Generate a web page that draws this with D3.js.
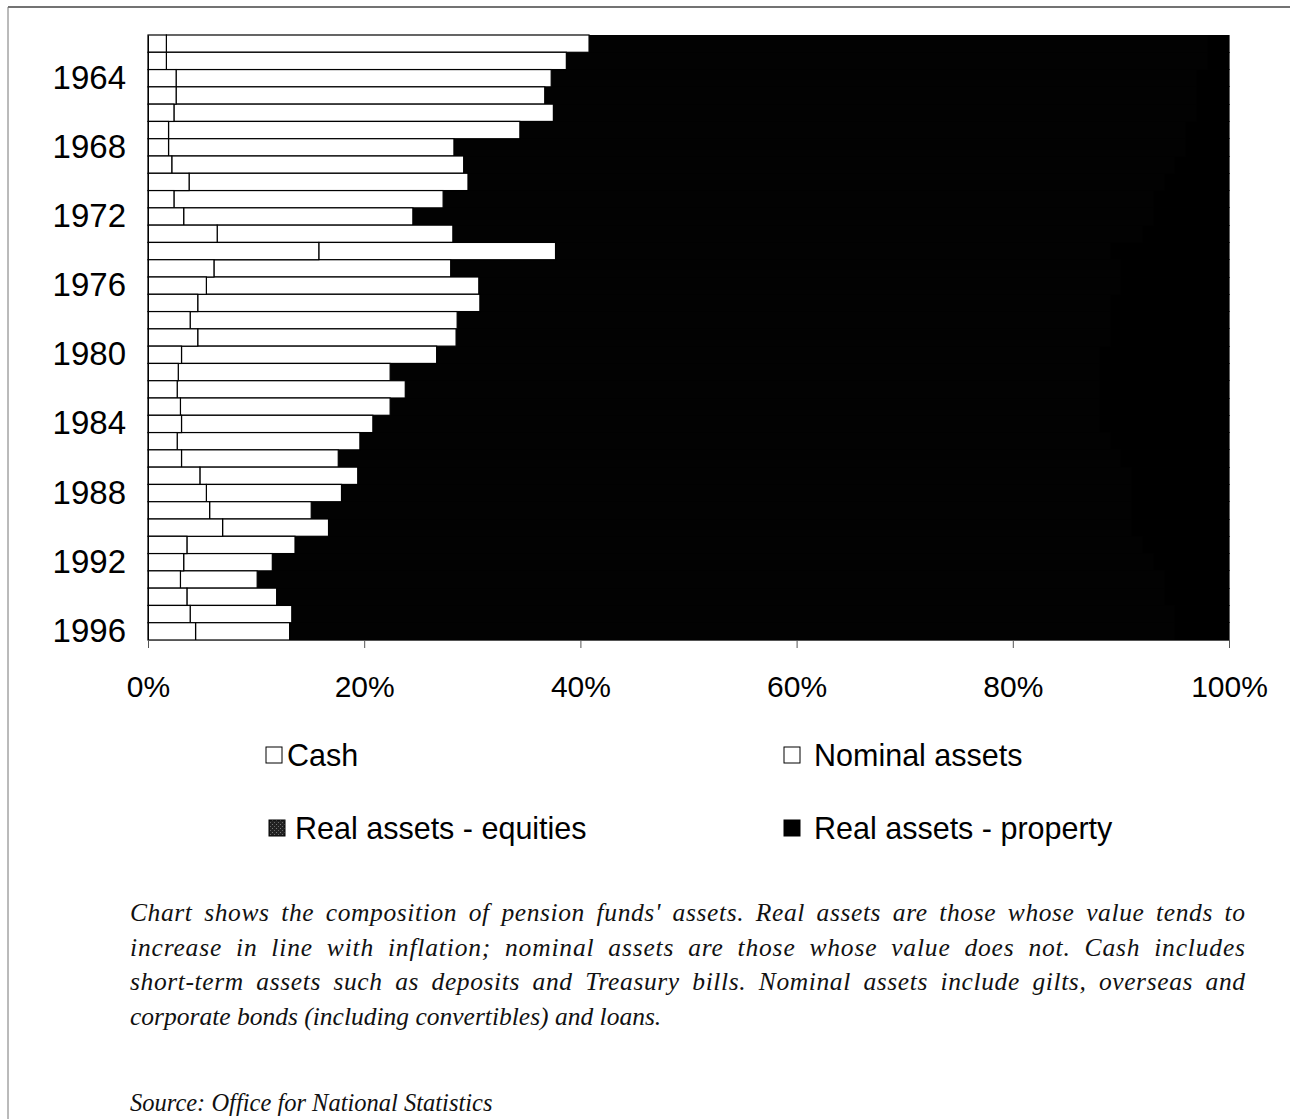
<!DOCTYPE html>
<html>
<head>
<meta charset="utf-8">
<script src="https://cdn.jsdelivr.net/npm/d3@7"></script>
<style>
  html, body { margin: 0; padding: 0; background: #fff; }
  svg { display: block; }
</style>
</head>
<body>
<svg id="chart" width="1290" height="1119"></svg>
<script>
// Pension fund asset composition, share of total (%), 1962-1996
const years = d3.range(1962, 1997);
const cash = [1.7, 1.7, 2.6, 2.6, 2.4, 1.9, 1.9, 2.2, 3.8, 2.4, 3.3, 6.4, 15.8, 6.1, 5.4, 4.6, 3.9, 4.6,
              3.1, 2.8, 2.7, 3.0, 3.1, 2.7, 3.1, 4.8, 5.4, 5.7, 6.9, 3.6, 3.3, 3.0, 3.6, 3.9, 4.4];
const nominal = [39.1, 37.0, 34.7, 34.1, 35.1, 32.5, 26.4, 27.0, 25.8, 24.9, 21.2, 21.8, 21.9, 21.9, 25.2,
                 26.1, 24.7, 23.9, 23.6, 19.6, 21.1, 19.4, 17.7, 16.9, 14.5, 14.6, 12.5, 9.4, 9.8, 10.0,
                 8.2, 7.1, 8.3, 9.4, 8.7];
const property = [2, 2, 3, 3, 3, 4, 4, 5, 6, 7, 7, 8, 11, 10, 10, 11, 11, 11, 12, 12, 12, 12, 12, 11,
                  10, 9, 9, 9, 9, 8, 7, 6, 6, 5, 5];
const equities = years.map((_, i) => +(100 - cash[i] - nominal[i] - property[i]).toFixed(1));

const yearTicks = d3.range(1964, 1997, 4);
const pctTicks = [0, 20, 40, 60, 80, 100];

const seriesKeys = ["cash", "nominal", "equities", "property"];
const seriesNames = ["Cash", "Nominal assets", "Real assets - equities", "Real assets - property"];
const seriesFill = { cash: "#ffffff", nominal: "#ffffff", equities: "#020202", property: "#000000" };

const captionLines = [
  "Chart shows the composition of pension funds' assets. Real assets are those whose value tends to",
  "increase in line with inflation; nominal assets are those whose value does not. Cash includes",
  "short-term assets such as deposits and Treasury bills. Nominal assets include gilts, overseas and",
  "corporate bonds (including convertibles) and loans."
];
const sourceText = "Source: Office for National Statistics";

const rows = years.map((yr, i) => ({
  year: yr, cash: cash[i], nominal: nominal[i], equities: equities[i], property: property[i]
}));

const svg = d3.select("#chart");
const sans = "'Liberation Sans', Arial, Helvetica, sans-serif";
const serif = "'Liberation Serif', 'Times New Roman', serif";

// Speckled dark fill used for the equities legend key
const defs = svg.append("defs");
const pat = defs.append("pattern").attr("id", "speckle").attr("patternUnits", "userSpaceOnUse")
  .attr("width", 4).attr("height", 4);
pat.append("rect").attr("width", 4).attr("height", 4).attr("fill", "#222");
pat.append("rect").attr("x", 0).attr("y", 0).attr("width", 1).attr("height", 1).attr("fill", "#777");
pat.append("rect").attr("x", 2).attr("y", 2).attr("width", 1).attr("height", 1).attr("fill", "#666");

// Outer frame (top and left rules)
svg.append("line").attr("x1", 8).attr("x2", 1290).attr("y1", 7).attr("y2", 7)
  .attr("stroke", "#444").attr("stroke-width", 1.5);
svg.append("line").attr("x1", 8).attr("x2", 8).attr("y1", 7).attr("y2", 1119)
  .attr("stroke", "#777").attr("stroke-width", 1);

const x = d3.scaleLinear().domain([0, 100]).range([148, 1229]);
const y = d3.scaleBand().domain(years).range([35, 640]).padding(0);

const stacked = d3.stack().keys(seriesKeys)(rows);

// Real assets drawn first, then the white cash/nominal bars on top so outlines stay crisp
const drawOrder = ["property", "equities", "nominal", "cash"];
drawOrder.forEach(key => {
  const layer = stacked.find(s => s.key === key);
  const white = key === "cash" || key === "nominal";
  svg.append("g").selectAll("rect").data(layer).join("rect")
    .attr("x", d => x(d[0]))
    .attr("y", d => y(d.data.year))
    .attr("width", d => x(d[1]) - x(d[0]))
    .attr("height", y.bandwidth())
    .attr("fill", seriesFill[key])
    .attr("shape-rendering", white ? null : "crispEdges")
    .attr("stroke", white ? "#000" : seriesFill[key])
    .attr("stroke-width", white ? 1.2 : 0.6);
});

// Y axis: year labels only
const yAxis = svg.append("g").attr("transform", "translate(148,0)")
  .call(d3.axisLeft(y).tickValues(yearTicks).tickSize(0).tickPadding(22));
yAxis.select(".domain").attr("stroke", "#000").attr("stroke-width", 1);
yAxis.selectAll("text").attr("font-family", sans).attr("font-size", 33).attr("fill", "#000");

// X axis: percentage scale
const xAxis = svg.append("g").attr("transform", "translate(0,640)")
  .call(d3.axisBottom(x).tickValues(pctTicks).tickFormat(d => d + "%").tickSize(8).tickPadding(28));
xAxis.select(".domain").attr("stroke", "#555").attr("stroke-width", 1);
xAxis.selectAll(".tick line").attr("stroke", "#555");
xAxis.selectAll("text").attr("font-family", sans).attr("font-size", 30).attr("fill", "#000");

// Legend: two columns, two rows
const legendPos = [
  { sx: 266, tx: 287, ty: 756 }, { sx: 784, tx: 814, ty: 756 },
  { sx: 269, tx: 295, ty: 829 }, { sx: 784, tx: 814, ty: 829 }
];
seriesKeys.forEach((key, i) => {
  const p = legendPos[i];
  const g = svg.append("g");
  g.append("rect").attr("x", p.sx).attr("y", p.ty - 9).attr("width", 16).attr("height", 16)
    .attr("fill", key === "equities" ? "url(#speckle)" : seriesFill[key])
    .attr("stroke", "#000").attr("stroke-width", 1);
  g.append("text").attr("x", p.tx).attr("y", p.ty + 10)
    .attr("font-family", sans).attr("font-size", 30.5).attr("fill", "#000")
    .text(seriesNames[i]);
});

// Caption: italic serif lines; full-measure lines justified, with most of the
// extra room going into the word spaces and the rest into letter spacing
const capLeft = 130, capRight = 1245, capSize = 25.5;
const capBaselines = [921, 956, 990, 1025];
captionLines.forEach((line, li) => {
  const t = svg.append("text").attr("x", capLeft).attr("y", capBaselines[li])
    .attr("font-family", serif).attr("font-style", "italic").attr("font-size", capSize)
    .attr("fill", "#111").text(line);
  if (li < captionLines.length - 1) {
    const natural = t.node().getComputedTextLength();
    const spaces = line.split(" ").length - 1;
    const extra = (capRight - capLeft) - natural;
    if (extra > 0) t.attr("word-spacing", (extra * 0.55 / spaces).toFixed(2));
    t.attr("textLength", capRight - capLeft).attr("lengthAdjust", "spacing");
  }
});

svg.append("text").attr("x", capLeft).attr("y", 1111)
  .attr("font-family", serif).attr("font-style", "italic").attr("font-size", 24.5)
  .attr("fill", "#111").text(sourceText);
</script>
</body>
</html>
